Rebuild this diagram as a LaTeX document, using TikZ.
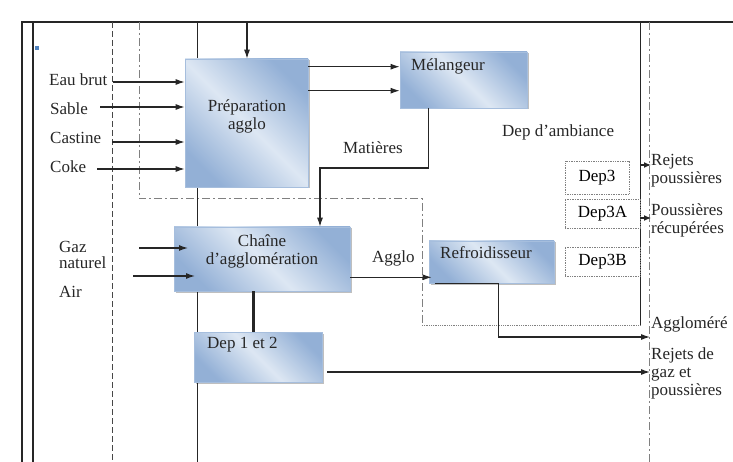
\documentclass[tikz,border=0pt]{standalone}
\usepackage{fontspec}
\setmainfont{Liberation Serif}
\usetikzlibrary{arrows.meta,shadows,calc}
\definecolor{bdark}{HTML}{93B0D6}
\definecolor{blight}{HTML}{DDE7F3}
\definecolor{bedge}{HTML}{A6BEDD}
\definecolor{ln}{HTML}{262626}
\definecolor{gd}{HTML}{808080}
\definecolor{markblue}{HTML}{4F81BD}
\begin{document}
\begin{tikzpicture}[x=1pt,y=-1pt,
  font=\fontsize{17}{18}\selectfont,
  bluebox/.style={rectangle, draw=bedge, line width=0.6pt, inner sep=0pt,
    top color=bdark, bottom color=bdark, middle color=blight, shading angle=-45,
    drop shadow={shadow xshift=1.5pt, shadow yshift=-1.5pt, opacity=0.25, fill=black}},
  dotbox/.style={rectangle, draw=gd, densely dotted, line width=0.7pt, inner sep=0pt, fill=white},
  txt/.style={inner sep=0pt, text=ln},
  arr/.style={draw=ln, line width=1.2pt, -{Latex[length=9pt,width=6pt]}},
  conn/.style={draw=ln, line width=1.2pt},
  dashdot/.style={draw=gd, line width=1pt, dash pattern=on 8pt off 3pt on 2pt off 3pt},
]
\useasboundingbox (0,0) rectangle (733,462);

% frame and lane lines
\draw[ln, line width=2pt] (22,462) -- (22,22) -- (733,22);
\draw[ln, line width=1.2pt] (33,22) -- (33,462);
\fill[markblue] (35,46) rectangle (39,50);
\draw[ln!85, line width=0.8pt, dash pattern=on 6pt off 3pt] (112,22) -- (112,462);
\draw[dashdot] (139,22) -- (139,199) -- (422,199) -- (422,325);
\draw[gd, densely dotted, line width=0.8pt] (422,325) -- (640,325);
\draw[ln, line width=1pt] (640,22) -- (640,325);
\draw[dashdot] (649,22) -- (649,462);
\draw[ln, line width=1pt] (197,22) -- (197,462);

% boxes
\node[bluebox, minimum width=123pt, minimum height=128pt] (prep) at (246.5,123) {};
\node[txt, align=center] (preptxt) at (247,116) {Préparation\\agglo};
\node[bluebox, minimum width=127pt, minimum height=56pt] (mel) at (463.5,80) {};
\node[txt] (meltxt) at (448,66) {Mélangeur};
\node[bluebox, minimum width=176pt, minimum height=64pt] (chaine) at (262,259) {};
\node[txt, align=center] (chainetxt) at (262,251) {Chaîne\\d’agglomération};
\node[bluebox, minimum width=125pt, minimum height=42pt] (ref) at (491.5,262) {};
\node[txt] (reftxt) at (486,253) {Refroidisseur};
\node[bluebox, minimum width=128pt, minimum height=50pt] (dep12) at (258,357) {};
\node[txt, anchor=west] (dep12txt) at (207,345) {Dep 1 et 2};

\node[dotbox, minimum width=64pt, minimum height=33pt] (dep3) at (597,177.5) {Dep3};
\node[dotbox, minimum width=75pt, minimum height=29pt] (dep3a) at (602.5,213.5) {Dep3A};
\node[dotbox, minimum width=75pt, minimum height=29pt] (dep3b) at (602.5,261.5) {Dep3B};

% text labels
\node[txt, anchor=west] (eau) at (49,80) {Eau brut};
\node[txt, anchor=west] (sable) at (50,109) {Sable};
\node[txt, anchor=west] (castine) at (50,138) {Castine};
\node[txt, anchor=west] (coke) at (50,167) {Coke};
\node[txt, anchor=west, align=left, font=\fontsize{17}{16}\selectfont] (gaz) at (59,255) {Gaz\\naturel};
\node[txt, anchor=west] (air) at (59,292) {Air};
\node[txt, anchor=west] (mat) at (343,148) {Matières};
\node[txt, anchor=west] (amb) at (502,132) {Dep d’ambiance};
\node[txt, anchor=west] (agglo) at (372,258) {Agglo};
\node[txt, anchor=west, align=left] (rejp) at (651,171) {Rejets\\poussières};
\node[txt, anchor=west, align=left] (pousr) at (651,220) {Poussières\\récupérées};
\node[txt, anchor=west] (agglom) at (651,324) {Aggloméré};
\node[txt, anchor=west, align=left] (rejg) at (651,373) {Rejets de\\gaz et\\poussières};

% connectors
\coordinate (topin) at (247,22);
\draw[arr] (topin) -- (topin |- prep.north);
\coordinate (ieau) at (113,82);
\coordinate (isable) at (100,107);
\coordinate (icast) at (112,142);
\coordinate (icoke) at (97,169);
\draw[arr] (ieau) -- (ieau -| prep.west);
\draw[arr] (isable) -- (isable -| prep.west);
\draw[arr] (icast) -- (icast -| prep.west);
\draw[arr] (icoke) -- (icoke -| prep.west);

\draw[arr] ($(prep.north east)+(0,8)$) coordinate (pm1) -- (pm1 -| mel.west);
\draw[arr] ($(prep.north east)+(0,32)$) coordinate (pm2) -- (pm2 -| mel.west);

\coordinate (bend) at (320,168);
\draw[arr] ($(mel.south west)+(29,0)$) |- (bend) -- (bend |- chaine.north);

\coordinate (igaz) at (139,248);
\coordinate (egaz) at (188,248);
\coordinate (iair) at (133,276);
\coordinate (eair) at (195,276);
\draw[arr] (igaz) -- (egaz);
\draw[arr] (iair) -- (eair);

\draw[arr] ($(chaine.south east)+(0,-14)$) coordinate (c1) -- ($(c1 -| ref.west)+(3,0)$);
\draw[ln, line width=3pt] ($(chaine.south)+(-9,0)$) coordinate (c2) -- (c2 |- dep12.north);

\coordinate (aggend) at (650,337);
\draw[arr] ($(ref.south west)+(6,0)$) -- ($(ref.south west)+(70,0)$) |- (aggend);

\coordinate (rejend) at (650,372);
\draw[arr] ($(dep12.east |- rejend)+(5,0)$) -- (rejend);

\coordinate (r1s) at (640,165);
\coordinate (r1e) at (651,165);
\coordinate (r2s) at (640,218);
\coordinate (r2e) at (651,218);
\draw[draw=ln, line width=1.2pt, -{Latex[length=7pt,width=6pt]}] (r1s) -- (r1e);
\draw[draw=ln, line width=1.2pt, -{Latex[length=7pt,width=6pt]}] (r2s) -- (r2e);
\end{tikzpicture}
\end{document}
